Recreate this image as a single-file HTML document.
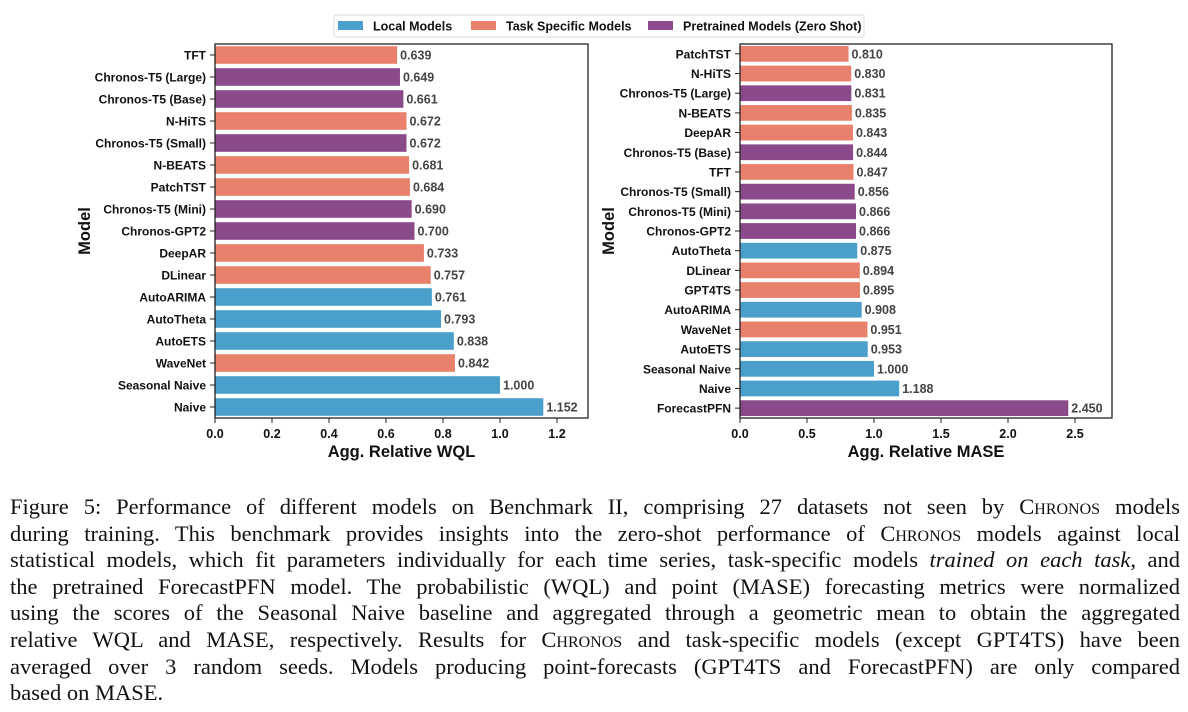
<!DOCTYPE html>
<html><head><meta charset="utf-8"><style>
body{margin:0;width:1188px;height:712px;background:#fff;overflow:hidden;position:relative;font-family:"Liberation Sans",sans-serif}
svg{position:absolute;left:0;top:0}
.cap{position:absolute;left:10px;width:1170px;font-family:"Liberation Serif",serif;font-size:22.5px;color:#111;text-align:justify;text-align-last:justify;white-space:nowrap;line-height:24px}
.cap.last{text-align-last:left}
.sc{font-variant:small-caps}
</style></head><body>
<svg id="chart" width="1188" height="470"></svg>
<div class="cap" style="top:495px">Figure 5: Performance of different models on Benchmark II, comprising 27 datasets not seen by <span class="sc">Chronos</span> models</div>
<div class="cap" style="top:521.6px">during training. This benchmark provides insights into the zero-shot performance of <span class="sc">Chronos</span> models against local</div>
<div class="cap" style="top:548.2px">statistical models, which fit parameters individually for each time series, task-specific models <i>trained on each task</i>, and</div>
<div class="cap" style="top:574.8px">the pretrained ForecastPFN model. The probabilistic (WQL) and point (MASE) forecasting metrics were normalized</div>
<div class="cap" style="top:601.4px">using the scores of the Seasonal Naive baseline and aggregated through a geometric mean to obtain the aggregated</div>
<div class="cap" style="top:628px">relative WQL and MASE, respectively. Results for <span class="sc">Chronos</span> and task-specific models (except GPT4TS) have been</div>
<div class="cap" style="top:654.6px">averaged over 3 random seeds. Models producing point-forecasts (GPT4TS and ForecastPFN) are only compared</div>
<div class="cap last" style="top:681.2px">based on MASE.</div>
<script>
const wqlModels=["TFT","Chronos-T5 (Large)","Chronos-T5 (Base)","N-HiTS","Chronos-T5 (Small)","N-BEATS","PatchTST","Chronos-T5 (Mini)","Chronos-GPT2","DeepAR","DLinear","AutoARIMA","AutoTheta","AutoETS","WaveNet","Seasonal Naive","Naive"];
const wqlValues=[0.639,0.649,0.661,0.672,0.672,0.681,0.684,0.690,0.700,0.733,0.757,0.761,0.793,0.838,0.842,1.000,1.152];
const wqlGroups=["t","p","p","t","p","t","t","p","p","t","t","l","l","l","t","l","l"];
const wqlTicks=[0,0.2,0.4,0.6,0.8,1.0,1.2];
const maseModels=["PatchTST","N-HiTS","Chronos-T5 (Large)","N-BEATS","DeepAR","Chronos-T5 (Base)","TFT","Chronos-T5 (Small)","Chronos-T5 (Mini)","Chronos-GPT2","AutoTheta","DLinear","GPT4TS","AutoARIMA","WaveNet","AutoETS","Seasonal Naive","Naive","ForecastPFN"];
const maseValues=[0.810,0.830,0.831,0.835,0.843,0.844,0.847,0.856,0.866,0.866,0.875,0.894,0.895,0.908,0.951,0.953,1.000,1.188,2.450];
const maseGroups=["t","t","p","t","t","p","t","p","p","p","l","t","t","l","t","l","l","l","p"];
const maseTicks=[0,0.5,1.0,1.5,2.0,2.5];
const colors={l:"#4a9fcb",t:"#e8806c",p:"#8b4a8b"};
const NS="http://www.w3.org/2000/svg";
const svg=document.getElementById('chart');
function mk(tag,attrs,parent,text){const e=document.createElementNS(NS,tag);for(const k in attrs)e.setAttribute(k,attrs[k]);if(text!==undefined)e.textContent=text;(parent||svg).appendChild(e);return e;}
function drawPanel(name,models,values,groups,ticks,x0,x1,xmaxScale,top,bottom,title,fmt,ylabX){
  const g=mk('g',{});
  
  
  const xs=v=>x0+v*xmaxScale;
  const n=models.length,step=(bottom-top)/n,bh=step*0.8;
  models.forEach((m,i)=>{
    const cy=top+step*(i+0.5);
    const r=mk('rect',{x:x0,y:cy-bh/2,width:xs(values[i])-x0,height:bh,fill:colors[groups[i]]},g);
    
    
    const v=mk('text',{x:xs(values[i])+3,y:cy+4.5,'font-size':12.5,'font-weight':'bold',fill:'#444'},g,values[i].toFixed(3));
    
    
    const t=mk('text',{x:x0-9,y:cy+4.5,'font-size':12,'font-weight':'bold','text-anchor':'end',fill:'#111'},g,m);
    
    
    mk('line',{x1:x0-5,x2:x0,y1:cy,y2:cy,stroke:'#222','stroke-width':1},g);
  });
  mk('rect',{x:x0,y:top,width:x1-x0,height:bottom-top,fill:'none',stroke:'#222','stroke-width':1.3},g);
  ticks.forEach(tk=>{
    const x=xs(tk);
    mk('line',{x1:x,x2:x,y1:bottom,y2:bottom+5,stroke:'#222','stroke-width':1},g);
    const t=mk('text',{x:x,y:bottom+20,'font-size':12.5,'font-weight':'bold','text-anchor':'middle',fill:'#111'},g,fmt(tk));
    
    
  });
  const xt=mk('text',{x:(x0+x1)/2,y:bottom+39,'font-size':16.5,'font-weight':'bold','text-anchor':'middle',fill:'#111'},g,title);
  
  
  const yt=mk('text',{x:0,y:0,'font-size':16.5,'font-weight':'bold','text-anchor':'middle',fill:'#111',transform:`translate(${ylabX},${(top+bottom)/2}) rotate(-90)`},g,'Model');
  
  
}
drawPanel('wql',wqlModels,wqlValues,wqlGroups,wqlTicks,215,588,285,44,418,'Agg. Relative WQL',v=>v.toFixed(1),90);
drawPanel('mase',maseModels,maseValues,maseGroups,maseTicks,740,1112,134,44,418,'Agg. Relative MASE',v=>v.toFixed(1),614);
const lg=mk('g',{});


mk('rect',{x:334,y:15,width:530,height:22,fill:'#fff',stroke:'#ddd','stroke-width':1,rx:2},lg);
const items=[["l","Local Models",338],["t","Task Specific Models",471],["p","Pretrained Models (Zero Shot)",648]];
items.forEach(it=>{
  mk('rect',{x:it[2],y:21,width:25,height:9,fill:colors[it[0]]},lg);
  const t=mk('text',{x:it[2]+35,y:30.5,'font-size':12.5,'font-weight':'bold',fill:'#111'},lg,it[1]);
  
  
});
</script>
</body></html>
